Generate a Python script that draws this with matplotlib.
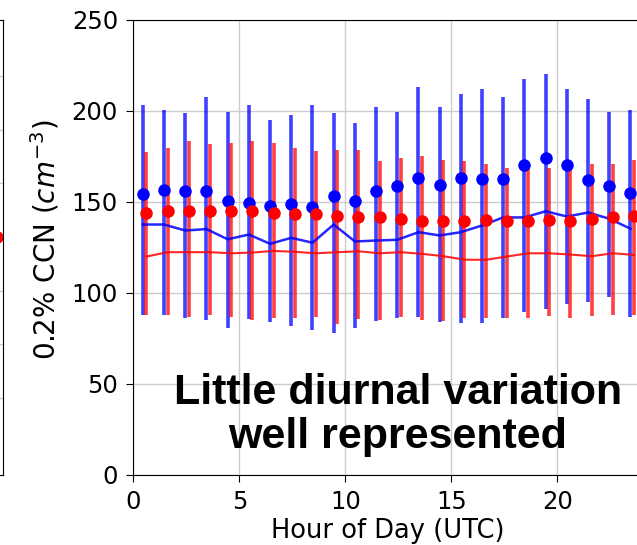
import numpy as np
import matplotlib
matplotlib.use('Agg')
import matplotlib.pyplot as plt

# heure (UTC)
hours = np.arange(24)

# observations (bleu) : moyenne, mediane, bornes
blue_mean = [154.2, 156.4, 156.0, 156.0, 150.5, 149.6, 148.0, 148.8, 147.2, 153.1, 150.7, 156.0,
             158.6, 163.2, 159.5, 163.2, 162.5, 162.5, 170.4, 173.9, 170.4, 162.3, 158.6, 155.0]
blue_med = [137.6, 137.6, 134.3, 135.1, 129.5, 132.1, 127.0, 130.3, 127.6, 137.6, 128.3, 128.8,
            129.2, 133.4, 131.6, 133.4, 137.1, 141.5, 141.5, 144.9, 142.0, 144.2, 140.8, 135.3]
blue_hi = [203.3, 200.5, 198.6, 207.5, 199.6, 203.3, 195.0, 197.8, 203.3, 198.7, 193.2, 202.3,
           199.6, 213.0, 202.3, 209.3, 212.0, 207.6, 217.4, 220.2, 212.0, 206.6, 199.6, 200.3]
blue_lo = [88.0, 88.0, 86.0, 85.1, 80.7, 85.8, 84.3, 81.8, 79.7, 77.9, 80.7, 84.7,
           86.0, 86.9, 84.3, 83.4, 83.4, 86.2, 89.8, 91.2, 94.2, 95.2, 97.9, 86.9]

# modele (rouge)
red_mean = [144.1, 145.0, 145.0, 145.0, 145.0, 145.0, 144.1, 143.2, 143.2, 142.2, 141.7, 141.7,
            140.4, 139.5, 139.5, 139.5, 140.0, 139.5, 139.5, 140.0, 139.5, 140.5, 141.7, 142.4]
red_med = [120.0, 122.4, 122.4, 122.4, 121.8, 122.2, 123.1, 122.6, 121.8, 122.4, 122.9, 121.8,
           122.4, 121.5, 120.2, 118.3, 118.2, 120.0, 121.8, 121.8, 121.1, 120.2, 121.8, 120.9]
red_hi = [177.2, 179.7, 183.4, 181.6, 182.5, 183.4, 182.5, 179.7, 177.9, 178.8, 178.8, 172.6,
          174.2, 175.1, 173.3, 172.4, 170.6, 168.7, 168.4, 168.7, 169.0, 170.7, 170.7, 173.3]
red_lo = [88.0, 88.0, 86.9, 88.0, 86.9, 85.2, 86.0, 86.0, 86.9, 82.9, 85.6, 85.1,
          86.9, 85.2, 84.6, 86.2, 86.2, 86.2, 86.2, 87.5, 86.2, 87.5, 88.0, 88.0]

# panneau voisin (coupe a gauche)
left_x = [23.6]
left_y = [4.0]
left_grid = [1, 2, 3, 4, 5, 6, 7]

fig = plt.figure(figsize=(6.37, 5.45), dpi=100)

# bout du panneau de gauche
ax0 = fig.add_axes([-0.6, 0.1285, 0.6052, 0.8349])
ax0.set_xlim(0, 24)
ax0.set_ylim(-0.43, 8.04)
ax0.set_yticks(left_grid)
ax0.grid(True, color='#cccccc', lw=1.0)
ax0.plot(left_x, left_y, 'o', color='red', ms=8, clip_on=True)
ax0.tick_params(length=0, labelleft=False, labelbottom=False)

# panneau principal (depasse a droite)
ax = fig.add_axes([0.2093, 0.1285, 0.7988, 0.8349])
ax.set_xlim(0, 24)
ax.set_ylim(0, 250)

xb = hours + 0.45
xr = hours + 0.62

ax.vlines(xb, blue_lo, blue_hi, color='blue', lw=2.6, alpha=0.75, zorder=2)
ax.vlines(xr, red_lo, red_hi, color='red', lw=2.6, alpha=0.75, zorder=2)
ax.plot(xb, blue_med, color='blue', lw=1.8, alpha=0.85, zorder=3)
ax.plot(xr, red_med, color='red', lw=1.5, alpha=0.85, zorder=3)
ax.plot(xb, blue_mean, 'o', color='blue', ms=8, zorder=4)
ax.plot(xr, red_mean, 'o', color='red', ms=8, zorder=4)

ax.set_xticks([0, 5, 10, 15, 20])
ax.set_yticks([0, 50, 100, 150, 200, 250])
ax.grid(True, color='#cccccc', lw=1.0)
ax.set_axisbelow(True)
ax.tick_params(labelsize=17.5, length=5, pad=6)
ax.set_xlabel('Hour of Day (UTC)', fontsize=18.5, labelpad=3)
ax.set_ylabel('0.2% CCN ($cm^{-3}$)', fontsize=20)
ax.yaxis.set_label_coords(-0.142, 0.516)

ax.text(12.47, 39, 'Little diurnal variation', ha='center', va='baseline',
        fontsize=31, fontweight='bold', family='Liberation Sans', zorder=5)
ax.text(12.47, 15, 'well represented', ha='center', va='baseline',
        fontsize=31, fontweight='bold', family='Liberation Sans', zorder=5)

plt.savefig('out.png', dpi=100)
